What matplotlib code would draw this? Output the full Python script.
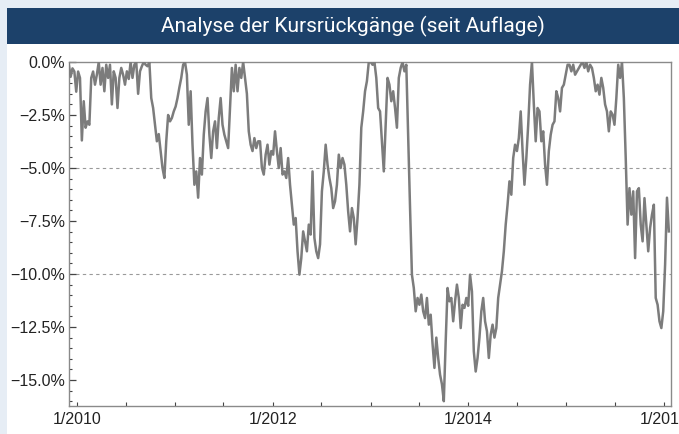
#!/usr/bin/env python3
# -*- coding: utf-8 -*-
import matplotlib

matplotlib.use("Agg")
import matplotlib.dates as mdates
import matplotlib.pyplot as plt
import pandas as pd
from matplotlib.patches import Rectangle
from matplotlib.ticker import FuncFormatter, MultipleLocator

TITLE = "Analyse der Kursrückgänge (seit Auflage)"

# Wochenwerte ab 01.12.2009, Drawdown in Prozent.
START = "2009-12-01"
drawdown = [
  -0.1, -0.7, -0.3, -0.45, -1.4, -0.45, -0.75, -3.7, -1.85, -3.1,
  -2.8, -2.96, -0.75, -0.45, -1.07, -0.6, 0.0, -1.07, -0.28, -1.38,
  -0.13, -0.75, -0.13, -2.0, -0.44, -0.75, -2.17, -0.75, -0.28, -0.6,
  -1.07, -0.44, -0.8, 0.0, -0.75, -0.13, 0.0, -1.5, -0.44, -0.2,
  0.0, -0.13, -0.2, 0.0, -1.7, -2.17, -2.96, -3.74, -3.4, -4.2,
  -5.0, -5.47, -3.74, -2.5, -2.8, -2.64, -2.33, -2.1, -1.7, -1.2,
  -0.75, -0.13, 0.0, -0.6, -2.96, -1.38, -3.9, -5.79, -5.16, -6.4,
  -4.53, -5.31, -3.43, -2.33, -1.7, -3.43, -4.53, -3.27, -2.8, -4.06,
  -2.64, -1.7, -2.96, -3.43, -3.74, -4.06, -2.17, -0.28, -1.38, -0.13,
  -1.38, -0.28, -0.75, 0.0, -0.75, -1.5, -3.27, -3.9, -4.2, -3.59,
  -4.06, -3.74, -3.74, -5.0, -5.31, -4.37, -3.9, -4.84, -4.2, -4.37,
  -3.27, -4.2, -5.0, -4.06, -5.31, -5.16, -5.47, -4.53, -5.79, -6.73,
  -7.67, -7.36, -8.93, -10.03, -9.25, -7.99, -8.46, -8.93, -7.67, -8.14,
  -5.16, -8.3, -8.93, -9.25, -8.6, -6.1, -5.16, -3.9, -4.84, -5.47,
  -5.95, -6.89, -6.57, -5.79, -4.37, -5.0, -4.53, -4.84, -5.79, -7.05,
  -7.99, -6.89, -7.36, -8.6, -7.36, -5.79, -3.1, -2.33, -1.38, -0.9,
  0.0, 0.0, -0.13, 0.0, -0.75, -2.17, -2.33, -3.74, -5.16, -2.96,
  -0.75, -1.07, -1.85, -1.38, -2.17, -3.1, -0.75, -0.28, 0.0, -0.44,
  -0.13, -3.59, -6.89, -10.03, -10.66, -11.76, -11.13, -11.45, -10.97, -11.76,
  -12.08, -11.13, -12.39, -11.92, -13.3, -14.43, -13.0, -13.96, -14.75, -15.2,
  -16.0, -13.18, -10.66, -11.29, -11.13, -12.23, -11.29, -10.5, -11.13, -12.55,
  -11.45, -11.6, -11.13, -11.5, -10.03, -10.82, -13.65, -14.6, -13.96, -13.0,
  -11.76, -11.13, -12.23, -12.7, -13.96, -12.86, -12.39, -13.0, -12.55, -11.13,
  -10.5, -9.87, -8.93, -7.67, -6.73, -5.63, -6.26, -4.53, -3.9, -4.2,
  -3.59, -2.33, -4.2, -5.79, -4.53, -2.96, -1.07, 0.0, -2.0, -3.74,
  -2.17, -2.33, -3.74, -3.27, -4.84, -5.79, -4.2, -3.43, -2.96, -2.8,
  -1.38, -1.7, -2.33, -1.22, -1.07, -0.6, -0.13, -0.13, -0.44, -0.13,
  -0.6, -0.44, -0.28, -0.13, 0.0, -0.28, 0.0, -0.44, -0.13, -0.28,
  -0.75, -1.38, -1.07, -1.54, -0.75, -1.22, -2.0, -2.33, -3.27, -2.33,
  -2.48, -2.96, -1.7, -0.13, -0.75, 0.0, -1.7, -4.53, -7.67, -5.95,
  -7.2, -6.1, -9.25, -6.1, -5.95, -7.67, -8.46, -6.42, -7.67, -8.93,
  -7.83, -7.2, -6.73, -11.13, -11.45, -12.23, -12.55, -11.76, -9.56, -6.4,
  -7.99,
]
grid_levels = [-5.0, -10.0]

W, H = 679, 434


def __y_label(v, _pos):
  """Prozent-Beschriftung mit echtem Minuszeichen."""
  if abs(v) < 1e-9:
    return "0.0%"
  return f"\u2212{abs(v):.1f}%"


def __x_label(v, _pos):
  d = mdates.num2date(v)
  return f"{d.month}/{d.year}"


def __plot():
  fig = plt.figure(figsize=(W / 100, H / 100), dpi=100, facecolor="#e6edf5")

  # weisses Panel und Titelleiste (hinter den Achsen)
  fig.patches.append(Rectangle((7 / W, 0), 1, (H - 44) / H,
                               transform=fig.transFigure, facecolor="white",
                               edgecolor="none", zorder=-10))
  fig.patches.append(Rectangle((7 / W, (H - 44) / H), 1, 36 / H,
                               transform=fig.transFigure, facecolor="#1c416a",
                               edgecolor="none", zorder=-10))
  fig.text(353 / W, (H - 26) / H, TITLE, color="white", fontsize=15,
           family=["Roboto", "DejaVu Sans"], weight="normal",
           ha="center", va="center")

  ax = fig.add_axes([69 / W, (H - 406) / H, 602 / W, 344 / H])
  ax.set_facecolor("white")

  dates = pd.date_range(START, periods=len(drawdown), freq="7D")
  ax.plot(dates, drawdown, color="#7c7c7c", lw=1.8, zorder=3)
  for lvl in grid_levels:
    ax.axhline(lvl, color="#9a9a9a", lw=0.8, ls=(0, (3, 3)), zorder=1)

  ax.set_ylim(-(406 - 62) / 21.2, 0)
  ax.set_xlim(pd.Timestamp("2009-12-02"), pd.Timestamp("2016-01-27"))

  ax.yaxis.set_major_locator(MultipleLocator(2.5))
  ax.yaxis.set_minor_locator(MultipleLocator(0.5))
  ax.yaxis.set_major_formatter(FuncFormatter(__y_label))
  ax.xaxis.set_major_locator(mdates.YearLocator(2))
  ax.xaxis.set_minor_locator(mdates.MonthLocator(bymonth=[1, 7]))
  ax.xaxis.set_major_formatter(FuncFormatter(__x_label))

  ax.tick_params(axis="y", which="major", direction="in", length=5,
                 width=0.9, color="#444444", labelsize=11.5, pad=3,
                 labelcolor="#222222")
  ax.tick_params(axis="y", which="minor", direction="in", length=2.5,
                 width=0.8, color="#444444")
  ax.tick_params(axis="x", which="both", direction="in", length=3,
                 width=0.8, color="#444444", labelsize=11.5, pad=4,
                 labelcolor="#222222")
  for lab in ax.get_xticklabels() + ax.get_yticklabels():
    lab.set_family(["Liberation Sans", "DejaVu Sans"])

  for sp in ax.spines.values():
    sp.set_color("#8a8a8a")
    sp.set_linewidth(1.0)

  fig.savefig("out.png", dpi=100, facecolor=fig.get_facecolor())


if __name__ == "__main__":
  __plot()
